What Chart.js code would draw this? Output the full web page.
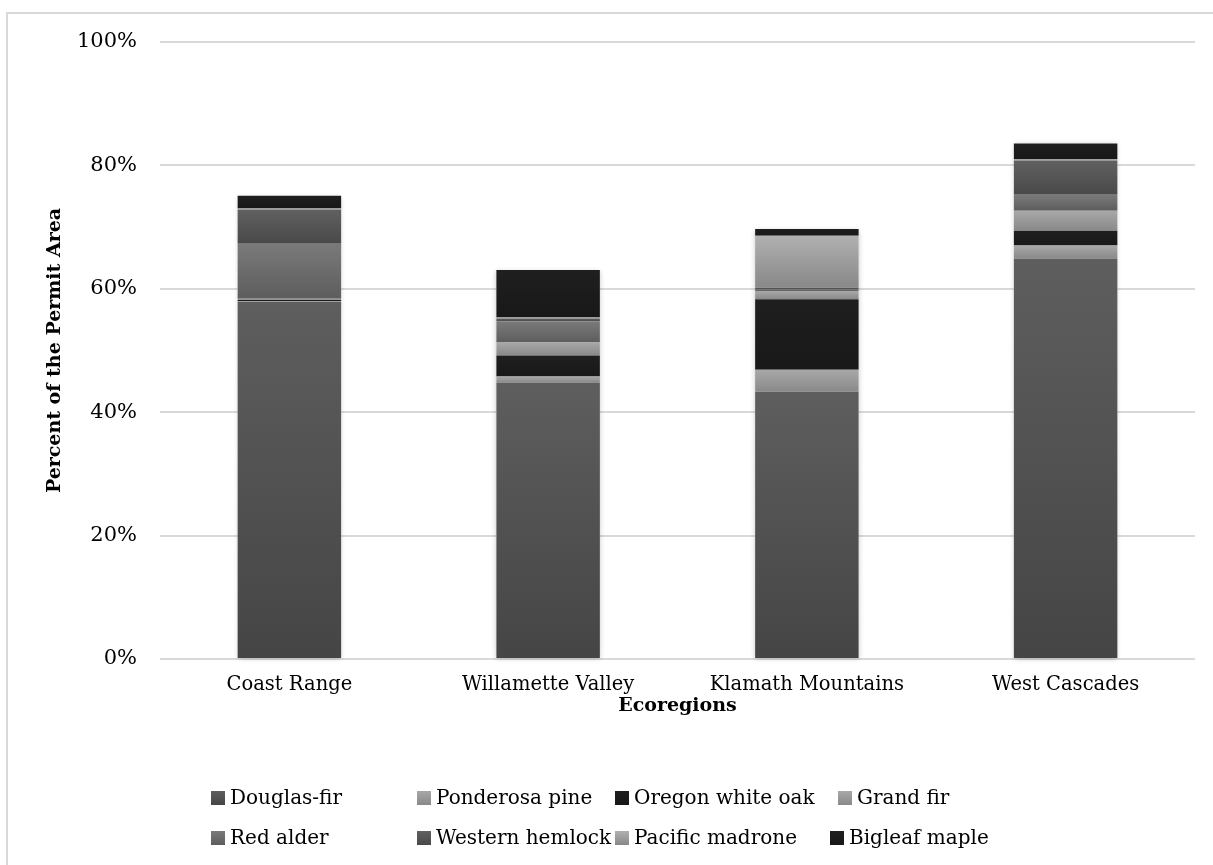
<!DOCTYPE html>
<html>
<head>
<meta charset="utf-8">
<script src="https://cdn.jsdelivr.net/npm/chart.js@4.4.1/dist/chart.umd.min.js"></script>
<style>
  body { margin: 0; background: #fff; }
  #wrap { position: relative; width: 1213px; height: 865px; overflow: hidden; }
  #frame { position: absolute; left: 6px; top: 12px; width: 1230px; height: 880px; border: 2px solid #d9d9d9; box-sizing: border-box; }
  #chart { position: absolute; left: 0; top: 0; }
  .leg { position: absolute; font-family: 'DejaVu Serif'; font-size: 20px; color: #000; white-space: nowrap; line-height: 24px; }
  .leg i { display: inline-block; width: 14px; height: 14px; margin-right: 5px; vertical-align: -1px; }
</style>
</head>
<body>
<div id="wrap">
  <div id="frame"></div>
  <canvas id="chart" width="1213" height="865"></canvas>
</div>
<script>
const categories = ['Coast Range', 'Willamette Valley', 'Klamath Mountains', 'West Cascades'];
const species = ['Douglas-fir', 'Ponderosa pine', 'Oregon white oak', 'Grand fir',
                 'Red alder', 'Western hemlock', 'Pacific madrone', 'Bigleaf maple'];

// percent of permit area, per ecoregion
const douglasFir     = [57.9, 44.8, 43.3, 64.9];
const ponderosaPine  = [0.1, 1.0, 3.6, 2.1];
const oregonWhiteOak = [0.2, 3.4, 11.4, 2.4];
const grandFir       = [0.2, 2.1, 1.35, 3.25];
const redAlder       = [8.9, 3.4, 0.3, 2.6];
const westernHemlock = [5.5, 0.45, 0.25, 5.5];
const pacificMadrone = [0.2, 0.2, 8.4, 0.3];
const bigleafMaple   = [2.1, 7.7, 1.1, 2.5];

const yTicks = [0, 20, 40, 60, 80, 100];

const series = [douglasFir, ponderosaPine, oregonWhiteOak, grandFir,
                redAlder, westernHemlock, pacificMadrone, bigleafMaple];

// top / bottom shade of each segment's gradient
const shades = [
  ['#5e5e5e', '#454545'],
  ['#a8a8a8', '#898989'],
  ['#1f1f1f', '#181818'],
  ['#a8a8a8', '#898989'],
  ['#7a7a7a', '#5d5d5d'],
  ['#606060', '#494949'],
  ['#b0b0b0', '#888888'],
  ['#1f1f1f', '#181818']
];

const legendX = [[211, 417, 615, 838], [211, 417, 615, 830]];
const legendY = [785, 825];

function segFill(shade) {
  return (ctx) => {
    const chart = ctx.chart;
    if (ctx.type !== 'data' || !chart.chartArea || !chart.scales.y) return shade[0];
    let start = 0;
    for (let k = 0; k < ctx.datasetIndex; k++) start += chart.data.datasets[k].data[ctx.dataIndex];
    const y = chart.scales.y;
    const top = y.getPixelForValue(start + ctx.raw);
    const bot = y.getPixelForValue(start);
    if (bot - top < 1) return shade[0];
    const g = chart.ctx.createLinearGradient(0, top, 0, bot);
    g.addColorStop(0, shade[0]);
    g.addColorStop(1, shade[1]);
    return g;
  };
}

// soft shadow behind each whole stack
const stackShadow = {
  id: 'stackShadow',
  beforeDatasetsDraw(chart) {
    const c = chart.ctx;
    const first = chart.getDatasetMeta(0).data;
    const last = chart.getDatasetMeta(chart.data.datasets.length - 1).data;
    c.save();
    c.shadowColor = 'rgba(0,0,0,0.22)';
    c.shadowBlur = 5;
    c.shadowOffsetY = 1;
    c.fillStyle = '#fff';
    first.forEach((bar, i) => {
      const top = last[i].y;
      c.fillRect(bar.x - bar.width / 2, top, bar.width, bar.base - top);
    });
    c.restore();
  }
};

const datasets = series.map((data, i) => ({
  label: species[i],
  data: data,
  backgroundColor: segFill(shades[i]),
  borderWidth: 0,
  barPercentage: 0.4,
  categoryPercentage: 1
}));

new Chart(document.getElementById('chart'), {
  type: 'bar',
  data: { labels: categories, datasets: datasets },
  plugins: [stackShadow],
  options: {
    responsive: false,
    animation: false,
    layout: { padding: { top: 42, right: 18, left: 0, bottom: 148 } },
    plugins: { legend: { display: false }, tooltip: { enabled: false } },
    scales: {
      x: {
        stacked: true,
        grid: { display: false },
        border: { display: false },
        ticks: { color: '#000', font: { family: 'DejaVu Serif', size: 19.5 }, padding: 6 },
        title: { display: true, text: 'Ecoregions', color: '#000', padding: 0,
                 font: { family: 'DejaVu Serif', size: 19, weight: 'bold' } },
        afterFit: (s) => { s.height = 58; }
      },
      y: {
        stacked: true,
        min: 0,
        max: 100,
        afterBuildTicks: (s) => { s.ticks = yTicks.map(v => ({ value: v })); },
        grid: { color: '#d9d9d9', lineWidth: 2, drawTicks: false },
        border: { display: false },
        ticks: { color: '#000', font: { family: 'DejaVu Serif', size: 21 }, padding: 23,
                 callback: (v) => v + '%' },
        title: { display: true, text: 'Percent of the Permit Area', color: '#000',
                 padding: { top: 44, bottom: 0 },
                 font: { family: 'DejaVu Serif', size: 19, weight: 'bold' } },
        afterFit: (s) => { s.width = 160; }
      }
    }
  }
});

// legend, 2 rows of 4
const wrap = document.getElementById('wrap');
species.forEach((name, i) => {
  const row = Math.floor(i / 4), col = i % 4;
  const el = document.createElement('div');
  el.className = 'leg';
  el.style.left = legendX[row][col] + 'px';
  el.style.top = legendY[row] + 'px';
  el.innerHTML = '<i style="background:linear-gradient(' + shades[i][0] + ',' + shades[i][1] + ')"></i>' + name;
  wrap.appendChild(el);
});
</script>
</body>
</html>
